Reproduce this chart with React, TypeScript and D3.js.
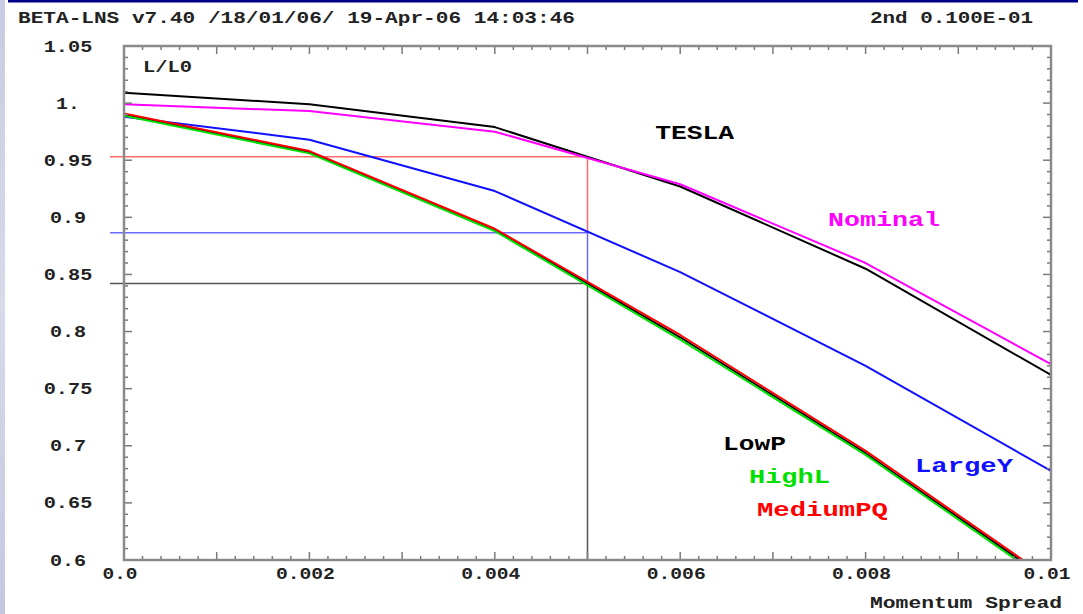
import React from 'react';
import * as d3 from 'd3';

// Momentum spread sample points and luminance ratio per lattice option
const momentum = [0, 0.002, 0.004, 0.006, 0.008, 0.01];
const tesla = [1.009, 0.999, 0.979, 0.927, 0.855, 0.762];
const nominal = [0.999, 0.993, 0.975, 0.929, 0.86, 0.7715];
const largeY = [0.988, 0.968, 0.923, 0.852, 0.77, 0.678];
const lowP = [0.99, 0.957, 0.889, 0.795, 0.6935, 0.581];
const highL = [0.989, 0.956, 0.888, 0.793, 0.692, 0.579];
const mediumPQ = [0.991, 0.958, 0.89, 0.797, 0.6955, 0.583];

// Reference read-off at the design momentum spread
const guideMomentum = 0.005;
const guideLevels = [0.953, 0.8865, 0.842];

const xTickLabels = ['0.0', '0.002', '0.004', '0.006', '0.008', '0.01'];
const yTickLabels = ['0.6', '0.65', '0.7', '0.75', '0.8', '0.85', '0.9', '0.95', '1.', '1.05'];

const headerLeft = 'BETA-LNS v7.40 /18/01/06/ 19-Apr-06 14:03:46';
const headerRight = '2nd 0.100E-01';
const xTitle = 'Momentum Spread';
const yTitle = 'L/L0';

const W = 1083;
const H = 614;
const FONT = "'Courier New', 'Liberation Mono', monospace";

const x = d3.scaleLinear().domain([0, 0.01]).range([124, 1051]);
const y = d3.scaleLinear().domain([0.6, 1.05]).range([560, 46]);

const series = [
  { name: 'TESLA', values: tesla, color: '#000000' },
  { name: 'Nominal', values: nominal, color: '#ff00ff' },
  { name: 'LargeY', values: largeY, color: '#1010ff' },
  { name: 'LowP', values: lowP, color: '#000000' },
  { name: 'HighL', values: highL, color: '#00e000' },
  { name: 'MediumPQ', values: mediumPQ, color: '#ff0000' },
];

// Series labels placed in data coordinates
const labels = [
  { text: 'TESLA', mx: 0.00573, v: 0.9686, w: 79, color: '#000000' },
  { text: 'Nominal', mx: 0.007594, v: 0.8924, w: 112, color: '#ff00ff' },
  { text: 'LowP', mx: 0.006462, v: 0.6963, w: 63, color: '#000000' },
  { text: 'HighL', mx: 0.006742, v: 0.6674, w: 81, color: '#00e000' },
  { text: 'MediumPQ', mx: 0.006828, v: 0.6385, w: 131, color: '#ff0000' },
  { text: 'LargeY', mx: 0.008533, v: 0.677, w: 98, color: '#1010ff' },
];

const line = d3
  .line<number>()
  .x((_, i) => x(momentum[i]))
  .y((d) => y(d));

export default function App() {
  const [x0, x1] = x.range();
  const [yb, yt] = y.range();

  const xMinor = d3.range(0, 51).map((i) => i * 0.0002);
  const yMinor = d3.range(0, 46).map((i) => 0.6 + i * 0.01);

  const guideColors = ['#ff6a6a', '#6a6aff', '#555555'];
  const vertStops = [...guideLevels, 0.6];

  return (
    <svg
      width={W}
      height={H}
      style={{ position: 'absolute', left: 0, top: 0, background: '#fff' }}
      fontFamily={FONT}
      fontWeight="bold"
    >
      <defs>
        <clipPath id="plot-clip">
          <rect x={x0} y={yt} width={x1 - x0} height={yb - yt} />
        </clipPath>
        <linearGradient id="side-strip" x1="0" y1="0" x2="0" y2="1">
          <stop offset="0" stopColor="#c9cbe2" />
          <stop offset="0.5" stopColor="#d8daea" />
          <stop offset="1" stopColor="#c4c7e0" />
        </linearGradient>
      </defs>

      <rect x={0} y={0} width={W} height={H} fill="#ffffff" />
      <rect x={0} y={0} width={5} height={H} fill="url(#side-strip)" />
      <rect x={8} y={0} width={1070} height={2.5} fill="#000088" />

      <text x={18} y={23} fontSize={16} textLength={557} lengthAdjust="spacingAndGlyphs" fill="#222">
        {headerLeft}
      </text>
      <text x={870} y={23} fontSize={16} textLength={163} lengthAdjust="spacingAndGlyphs" fill="#222">
        {headerRight}
      </text>

      {/* guide lines at the design momentum spread */}
      <g strokeWidth={1.5} fill="none">
        {guideLevels.map((g, i) => (
          <line key={'h' + i} x1={110} x2={x(guideMomentum)} y1={y(g)} y2={y(g)} stroke={guideColors[i]} />
        ))}
        {guideLevels.map((g, i) => (
          <line
            key={'v' + i}
            x1={x(guideMomentum)}
            x2={x(guideMomentum)}
            y1={y(g)}
            y2={y(vertStops[i + 1])}
            stroke={guideColors[i]}
          />
        ))}
      </g>

      {/* curves */}
      <g clipPath="url(#plot-clip)" fill="none" strokeWidth={2} strokeLinejoin="round">
        {series.map((s) => (
          <path key={s.name} d={line(s.values) || ''} stroke={s.color} />
        ))}
      </g>

      {/* frame and ticks */}
      <g stroke="#7a7a7a" strokeWidth={1.5}>
        {xMinor.map((t, i) => {
          const len = i % 5 === 0 ? 8 : 4;
          const px = x(t);
          return (
            <g key={'xt' + i}>
              <line x1={px} x2={px} y1={yb} y2={yb - len} />
              <line x1={px} x2={px} y1={yt} y2={yt + len} />
            </g>
          );
        })}
        {yMinor.map((t, i) => {
          const len = i % 5 === 0 ? 8 : 4;
          const py = y(t);
          return (
            <g key={'yt' + i}>
              <line x1={x0} x2={x0 + len} y1={py} y2={py} />
              <line x1={x1} x2={x1 - len} y1={py} y2={py} />
            </g>
          );
        })}
      </g>
      <rect x={x0} y={yt} width={x1 - x0} height={yb - yt} fill="none" stroke="#8a8a8a" strokeWidth={2.5} />

      {/* tick labels */}
      <g fontSize={16} fill="#222">
        {xTickLabels.map((t, i) => (
          <text
            key={'xl' + i}
            x={x(i * 0.002) - 4}
            y={579}
            textAnchor="middle"
            textLength={t.length * 12 - 1}
            lengthAdjust="spacingAndGlyphs"
          >
            {t}
          </text>
        ))}
        {yTickLabels.map((t, i) => (
          <text
            key={'yl' + i}
            x={68}
            y={y(0.6 + i * 0.05) + 5.5}
            textAnchor="middle"
            textLength={t.length * 12.4 - 1}
            lengthAdjust="spacingAndGlyphs"
          >
            {t}
          </text>
        ))}
      </g>

      <text x={143} y={72} fontSize={16} textLength={49} lengthAdjust="spacingAndGlyphs" fill="#222">
        {yTitle}
      </text>
      <text x={870} y={608} fontSize={16} textLength={192} lengthAdjust="spacingAndGlyphs" fill="#222">
        {xTitle}
      </text>

      {/* series labels */}
      {labels.map((l) => (
        <text
          key={l.text}
          x={x(l.mx)}
          y={y(l.v)}
          fontSize={21}
          textLength={l.w}
          lengthAdjust="spacingAndGlyphs"
          fill={l.color}
        >
          {l.text}
        </text>
      ))}
    </svg>
  );
}
